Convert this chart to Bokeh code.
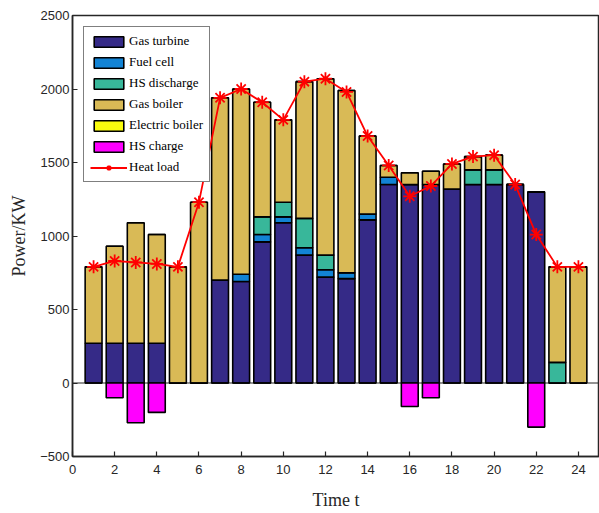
import numpy as np
from bokeh.plotting import figure
from bokeh.models import (ColumnDataSource, Legend, LegendItem, Span,
                          Range1d, FixedTicker)
from bokeh.embed import file_html
from bokeh.resources import INLINE

hours = list(range(1, 25))
gas_turbine = [270, 270, 270, 270, 0, 0, 700, 690, 960, 1090, 870, 720,
               710, 1110, 1350, 1350, 1350, 1320, 1350, 1350, 1350, 1300, 0, 0]
fuel_cell = [0, 0, 0, 0, 0, 0, 0, 50, 50, 40, 50, 50,
             40, 40, 50, 0, 0, 0, 0, 0, 0, 0, 0, 0]
hs_discharge = [0, 0, 0, 0, 0, 0, 0, 0, 120, 100, 200, 100,
                0, 0, 0, 0, 0, 0, 100, 100, 0, 0, 140, 0]
gas_boiler = [520, 660, 820, 740, 790, 1230, 1240, 1260, 780, 560, 930, 1200,
              1240, 530, 80, 80, 90, 170, 90, 100, 0, 0, 650, 790]
electric_boiler = [0] * 24
hs_charge = [0, -100, -270, -200, 0, 0, 0, 0, 0, 0, 0, 0,
             0, 0, 0, -160, -100, 0, 0, 0, 0, -300, 0, 0]
heat_load = [790, 830, 820, 810, 790, 1230, 1940, 2000, 1910, 1790, 2050, 2070,
             1980, 1680, 1480, 1270, 1340, 1490, 1540, 1550, 1350, 1010, 790, 790]
x_ticks = list(range(0, 25, 2))
y_ticks = list(range(-500, 2501, 500))

names = ["Gas turbine", "Fuel cell", "HS discharge", "Gas boiler", "Electric boiler"]
keys = ["gt", "fc", "hsd", "gb", "eb"]
colors = ["#352a87", "#1283d4", "#38b79a", "#d9ba56", "#f9fb0e"]
charge_color = "#ff00ff"

src = ColumnDataSource(dict(t=hours, gt=gas_turbine, fc=fuel_cell, hsd=hs_discharge,
                            gb=gas_boiler, eb=electric_boiler, hsc=hs_charge,
                            load=heat_load))

TXT = "#262626"
p = figure(width=599, height=513, output_backend="svg", toolbar_location=None,
           x_range=Range1d(0, 25), y_range=Range1d(-500, 2500),
           min_border_left=72, min_border_right=0, min_border_top=15,
           min_border_bottom=57)
p.xgrid.visible = False
p.ygrid.visible = False
p.outline_line_color = TXT
p.outline_line_width = 1.5

p.add_layout(Span(location=0, dimension="width", line_color=TXT, line_width=1,
                  level="underlay"))

stack = p.vbar_stack(keys, x="t", width=0.8, source=src, color=colors,
                     line_color="black", line_width=1.6)
charge = p.vbar(x="t", top="hsc", bottom=0, width=0.8, source=src,
                fill_color=charge_color, line_color="black", line_width=1.6)
ln = p.line("t", "load", source=src, line_color="#ff0000", line_width=1.8)
mk = p.scatter("t", "load", source=src, marker="asterisk", size=13,
               line_color="#ff0000", line_width=1.8)

items = [LegendItem(label=n, renderers=[r]) for n, r in zip(names, stack)]
items.append(LegendItem(label="HS charge", renderers=[charge]))
items.append(LegendItem(label="Heat load", renderers=[ln, mk]))
leg = Legend(items=items, location=(11, 274), glyph_width=37, glyph_height=13,
             label_height=14, spacing=5, padding=6, margin=0, label_standoff=2,
             label_text_font="Liberation Serif", label_text_font_size="13px",
             label_text_color="black", border_line_color="black",
             border_line_width=1, background_fill_alpha=1)
p.add_layout(leg, "center")

for ax in (p.xaxis[0], p.yaxis[0]):
    ax.major_tick_in = 5
    ax.major_tick_out = 0
    ax.minor_tick_in = 0
    ax.minor_tick_out = 0
    ax.axis_line_color = TXT
    ax.axis_line_width = 1.5
    ax.major_tick_line_color = TXT
    ax.major_tick_line_width = 1.2
    ax.major_label_text_font = "Liberation Sans"
    ax.major_label_text_font_size = "13px"
    ax.major_label_text_color = TXT
    ax.axis_label_text_font = "Liberation Serif"
    ax.axis_label_text_font_size = "18px"
    ax.axis_label_text_font_style = "normal"
    ax.axis_label_text_color = TXT

p.xaxis.ticker = FixedTicker(ticks=x_ticks)
p.yaxis.ticker = FixedTicker(ticks=y_ticks)
p.xaxis.axis_label = "Time t"
p.yaxis.axis_label = "Power/KW"
p.xaxis.major_label_standoff = 8
p.yaxis.major_label_standoff = 3
p.xaxis.axis_label_standoff = 13
p.yaxis.axis_label_standoff = 8

open("out.html", "w").write(file_html(p, INLINE))
